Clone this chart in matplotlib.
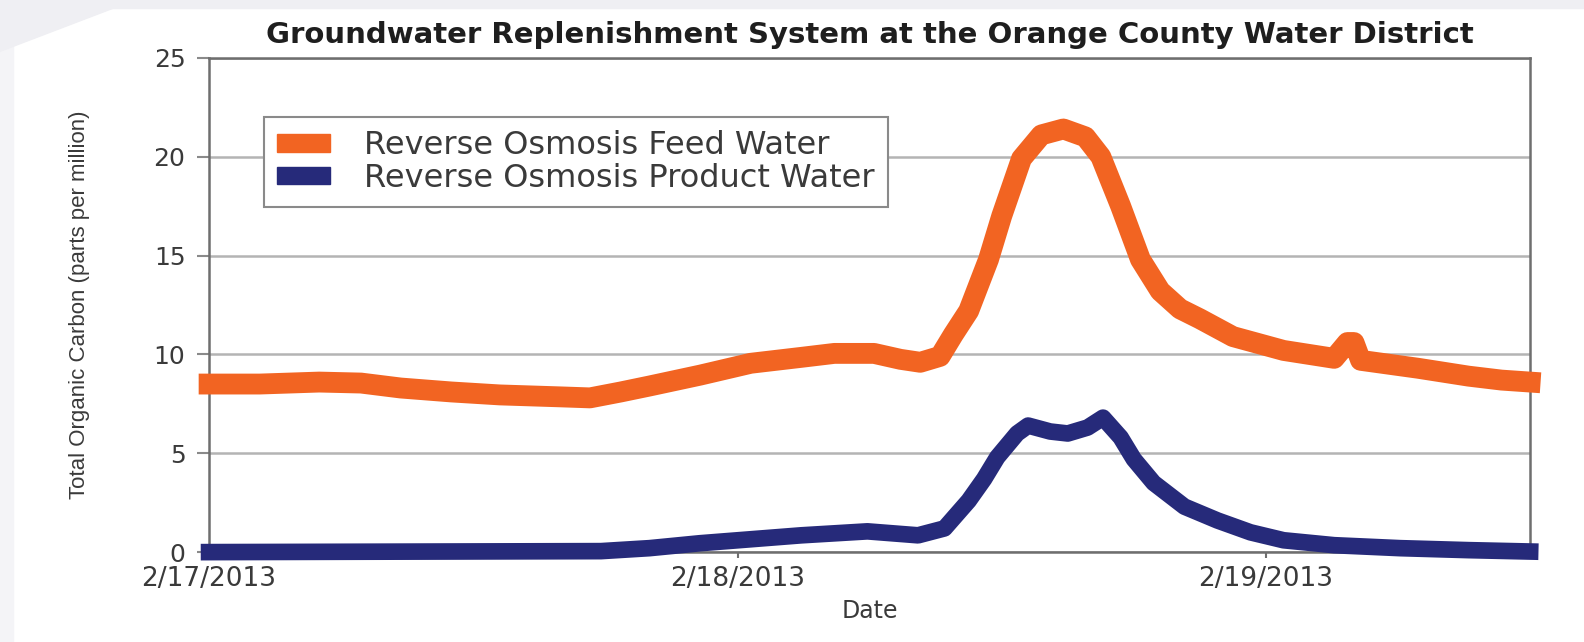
import numpy as np
import pandas as pd
import matplotlib
matplotlib.use("Agg")
import matplotlib.pyplot as plt
from matplotlib import font_manager
from matplotlib.patches import Patch, Rectangle, Polygon

# Data (hours after 2/17/2013 00:00, TOC in ppm)
feed_hours = [0, 2.3, 5, 6.9, 8.7, 11, 13.2, 16, 17.3, 18.7, 20, 22.3, 24.6, 26.9,
              28.4, 30.2, 31.4, 32.3, 33.2, 33.8, 34.5, 35.4, 36, 36.9, 37.8, 38.8,
              39.8, 40.5, 41.4, 42.3, 43.2, 44.1, 45, 46.5, 48.8, 51.1, 51.7, 52.0,
              52.3, 54.9, 57.2, 58.7, 60]
feed_toc = [8.5, 8.5, 8.6, 8.55, 8.3, 8.1, 7.95, 7.85, 7.8, 8.1, 8.4, 8.95, 9.55, 9.85,
            10.05, 10.05, 9.75, 9.6, 9.9, 11.0, 12.2, 14.8, 17.0, 19.9, 21.1, 21.4,
            21.0, 20.0, 17.5, 14.8, 13.2, 12.3, 11.8, 10.9, 10.2, 9.8, 10.6, 10.6,
            9.7, 9.3, 8.9, 8.7, 8.6]

product_hours = [0, 17.8, 20, 22.3, 24.6, 26.9, 29.9, 32.2, 33.4, 34.5, 35.2, 35.8,
                 36.7, 37.2, 38.2, 39, 39.9, 40.6, 41.4, 42, 42.9, 44.3, 45.8, 47.3,
                 48.8, 51.1, 54.1, 57.2, 60]
product_toc = [0, 0.05, 0.2, 0.45, 0.65, 0.85, 1.05, 0.85, 1.2, 2.6, 3.7, 4.8,
               6.0, 6.4, 6.1, 6.0, 6.3, 6.8, 5.8, 4.7, 3.5, 2.3, 1.6, 1.0,
               0.6, 0.35, 0.2, 0.1, 0.03]

tick_dates = ["2013-02-17", "2013-02-18", "2013-02-19"]
tick_labels = ["2/17/2013", "2/18/2013", "2/19/2013"]
y_ticks = [0, 5, 10, 15, 20, 25]

start = pd.Timestamp("2013-02-17")
feed_x = start + pd.to_timedelta(feed_hours, unit="h")
product_x = start + pd.to_timedelta(product_hours, unit="h")

orange = "#f26422"
navy = "#262a7a"
text_col = "#3a3a3a"

plt.rcParams["font.family"] = ["DejaVu Sans"]

# narrow font for the rotated axis label, if there is one
ylab_family = "DejaVu Sans"
for name in ["Liberation Sans Narrow", "DejaVu Sans Condensed", "Liberation Sans"]:
    try:
        font_manager.findfont(name, fallback_to_default=False)
        ylab_family = name
        break
    except Exception:
        pass

fig = plt.figure(figsize=(15.84, 6.42), dpi=100)
fig.patch.set_facecolor("white")

# faint page background at the top / left edges
fig.patches.append(Rectangle((0, 0.987), 1, 0.013, transform=fig.transFigure,
                             color="#efeff3", zorder=0))
fig.patches.append(Rectangle((0, 0), 0.008, 1, transform=fig.transFigure,
                             color="#f4f4f7", zorder=0))
fig.patches.append(Polygon([[0, 1], [0.085, 1], [0, 0.92]], closed=True,
                           transform=fig.transFigure, color="#efeff3", zorder=0))

ax = fig.add_axes([0.132, 0.140, 0.834, 0.770])

ax.plot(feed_x, feed_toc, color=orange, lw=15, solid_capstyle="projecting",
        solid_joinstyle="round", clip_on=False, zorder=3)
ax.plot(product_x, product_toc, color=navy, lw=12, solid_capstyle="projecting",
        solid_joinstyle="round", clip_on=False, zorder=4)

ax.set_xlim(start, start + pd.Timedelta(hours=60))
ax.set_ylim(0, 25)
ax.set_xticks(pd.to_datetime(tick_dates))
ax.set_xticklabels(tick_labels)
ax.set_yticks(y_ticks)

ax.grid(axis="y", color="#b4b4b4", lw=1.8)
ax.set_axisbelow(True)
for s in ax.spines.values():
    s.set_color("#6e6e6e")
    s.set_linewidth(1.8)

ax.tick_params(axis="y", direction="out", length=9, width=1.5, color="#8a8a8a",
               labelsize=18, labelcolor=text_col, pad=8)
ax.tick_params(axis="x", direction="out", length=4, width=1.5, color="#6e6e6e",
               labelsize=19, labelcolor=text_col, pad=6)

ax.set_title("Groundwater Replenishment System at the Orange County Water District",
             fontsize=21, fontweight="bold", color="#1e1e1e", pad=11)
ax.set_xlabel("Date", fontsize=17, color=text_col, labelpad=5, family="DejaVu Sans")
ax.set_ylabel("Total Organic Carbon (parts per million)", fontsize=16,
              color=text_col, labelpad=46, family=ylab_family)

handles = [Patch(facecolor=orange, edgecolor=orange),
           Patch(facecolor=navy, edgecolor=navy)]
leg = ax.legend(handles, ["Reverse Osmosis Feed Water", "Reverse Osmosis Product Water"],
                loc="upper left", bbox_to_anchor=(0.0416, 0.8806), borderaxespad=0,
                fontsize=23, frameon=True, fancybox=False, framealpha=1,
                handlelength=1.65, handleheight=0.48, handletextpad=1.05,
                labelspacing=0.05, borderpad=0.42)
leg.get_frame().set_edgecolor("#8a8a8a")
leg.get_frame().set_linewidth(1.5)
for t in leg.get_texts():
    t.set_color(text_col)

fig.savefig("out.png", dpi=100)
